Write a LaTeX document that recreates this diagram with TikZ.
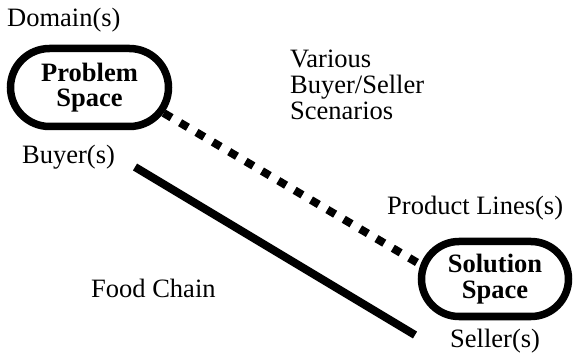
\documentclass[tikz,border=0pt]{standalone}
\usepackage{fontspec}
\setmainfont{Liberation Serif}
\usetikzlibrary{shapes.misc}
\begin{document}
\begin{tikzpicture}[x=1pt,y=-1pt,
  every node/.style={font=\fontsize{26.5}{26}\selectfont},
  lbl/.style={anchor=base west,inner sep=0pt},
  space/.style={rounded rectangle,draw,line width=7.5pt,align=center,inner sep=0pt,
    font=\fontsize{26.5}{25.5}\selectfont\bfseries}]
\useasboundingbox (0,0) rectangle (576,358);
% the two spaces
\node[space,minimum width=158pt,minimum height=78pt] (problem) at (89.5,87.5) {Problem\\Space};
\node[space,minimum width=147pt,minimum height=75pt] (solution) at (495,279) {Solution\\Space};
\node[lbl] (domain) at (7,27) {Domain(s)};
\node[lbl] (buyer) at (22,164) {Buyer(s)};
\node[lbl] (seller) at (450,348) {Seller(s)};
\node[lbl] (product) at (387,215) {Product Lines(s)};
\node[anchor=north west,inner sep=0pt,align=left] (various) at (290,50) {Various\\Buyer/Seller\\Scenarios};
\node[lbl] (chain) at (91,298) {Food Chain};
% scenarios and food chain
\draw[line width=8pt,dash pattern=on 9pt off 10pt] (problem.-19) -- (solution.169);
\coordinate (chainA) at (135,167);
\coordinate (chainB) at (415,335);
\draw[line width=8pt] (chainA) -- (chainB);
\end{tikzpicture}
\end{document}
